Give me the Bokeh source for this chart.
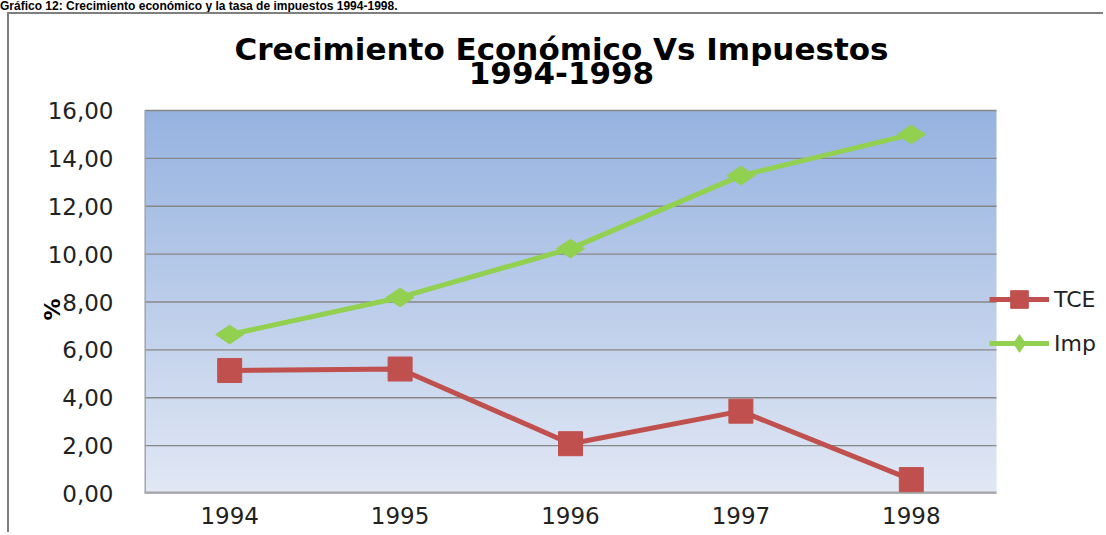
import math
import numpy as np
from bokeh.plotting import figure
from bokeh.layouts import column
from bokeh.models import (Legend, LegendItem, FixedTicker, Range1d, Div, Label,
                          LinearAxis)
from bokeh.embed import file_html
from bokeh.resources import INLINE

# ---- data ----
years = ["1994", "1995", "1996", "1997", "1998"]
tce = [5.14, 5.20, 2.08, 3.44, 0.58]
imp = [6.64, 8.19, 10.23, 13.28, 15.00]
y_ticks = [0, 2, 4, 6, 8, 10, 12, 14, 16]
y_tick_labels = ["0,00", "2,00", "4,00", "6,00", "8,00", "10,00", "12,00", "14,00", "16,00"]
series_names = ["TCE", "Imp"]
title_line1 = "Crecimiento Económico Vs Impuestos"
title_line2 = "1994-1998"
caption = "Gráfico 12: Crecimiento económico y la tasa de impuestos 1994-1998."
y_label = "%"

x_idx = list(range(len(years)))
y_max = y_ticks[-1]

RED = "#C0504D"
GREEN = "#92D050"
FONT = "DejaVu Sans"

# ---- layout geometry (pixels) ----
W, Hgt = 1096, 520
LEFT, BOTTOM = 135, 41
AREA_W, AREA_H = 852, 383          # size of the shaded plot area
px_x = AREA_W / len(years)
px_y = AREA_H / y_max
frame_w = W - LEFT
frame_h = Hgt - BOTTOM
x_end = -0.5 + frame_w / px_x
y_end = frame_h / px_y

p = figure(width=W, height=Hgt, output_backend="svg", toolbar_location=None,
           x_range=Range1d(-0.5, x_end), y_range=Range1d(0, y_end),
           min_border_left=LEFT, min_border_right=0, min_border_top=0,
           min_border_bottom=BOTTOM)
p.outline_line_color = None
p.background_fill_color = "white"
p.border_fill_color = "white"
p.margin = (0, 0, 0, 7)
p.styles = {"border-left": "2px solid #7F7F7F", "border-top": "2px solid #7F7F7F"}

# gradient background of plot area
NR = 384
t = np.linspace(0.0, 1.0, NR)[:, None]
bottom_c = np.array([226, 232, 245])
top_c = np.array([150, 179, 224])
cols = bottom_c + (top_c - bottom_c) * t
img = np.empty((NR, 1), dtype=np.uint32)
view = img.view(dtype=np.uint8).reshape((NR, 1, 4))
view[:, :, 0] = cols[:, 0:1].astype(np.uint8)
view[:, :, 1] = cols[:, 1:2].astype(np.uint8)
view[:, :, 2] = cols[:, 2:3].astype(np.uint8)
view[:, :, 3] = 255
p.image_rgba(image=[img], x=-0.5, y=0, dw=len(years), dh=y_max, level="image")

# grid lines and plot-area edges
x_lo, x_hi = -0.5, len(years) - 0.5
p.segment(x0=[x_lo] * len(y_ticks), y0=y_ticks, x1=[x_hi] * len(y_ticks), y1=y_ticks,
          line_color="#878787", line_width=1.3)
p.segment(x0=[x_lo], y0=[0], x1=[x_lo], y1=[y_max], line_color="#A6A6A6", line_width=3)
p.segment(x0=[x_lo], y0=[0], x1=[x_hi], y1=[0], line_color="#A6A6A6", line_width=4)

# axes
p.xgrid.grid_line_color = None
p.ygrid.grid_line_color = None
p.yaxis.ticker = FixedTicker(ticks=y_ticks)
p.yaxis.major_label_overrides = dict(zip(y_ticks, y_tick_labels))
p.xaxis.ticker = FixedTicker(ticks=x_idx)
p.xaxis.major_label_overrides = dict(zip(x_idx, years))
for ax in (p.xaxis, p.yaxis):
    ax.major_tick_line_color = None
    ax.minor_tick_line_color = None
    ax.major_tick_out = 0
    ax.major_tick_in = 0
    ax.major_label_text_font = FONT
    ax.major_label_text_font_size = "23px"
    ax.major_label_text_color = "#222222"
    ax.axis_line_color = None
p.yaxis.major_label_standoff = 31
p.xaxis.major_label_standoff = 13

# "%" label as a second left axis with one labelled tick
pct_pos = 8.15
pct_axis = LinearAxis(ticker=FixedTicker(ticks=[pct_pos]),
                      major_label_overrides={pct_pos: y_label},
                      axis_line_color=None, major_tick_line_color=None,
                      minor_tick_line_color=None, major_tick_out=0, major_tick_in=0,
                      major_label_orientation=math.pi / 2, major_label_standoff=-8,
                      major_label_text_font=FONT, major_label_text_font_style="bold",
                      major_label_text_font_size="22px", major_label_text_color="#000000")
p.add_layout(pct_axis, "left")

# series
l1 = p.line(x_idx, tce, line_color=RED, line_width=5)
s1 = p.scatter(x_idx, tce, marker="square", size=24, fill_color=RED, line_color=RED)
l2 = p.line(x_idx, imp, line_color=GREEN, line_width=5)
s2 = p.scatter(x_idx, imp, marker="diamond", angle=np.pi / 2, size=28,
               fill_color=GREEN, line_color=GREEN)

legend = Legend(items=[LegendItem(label=series_names[0], renderers=[l1, s1]),
                       LegendItem(label=series_names[1], renderers=[l2, s2])],
                location=(845, 128), glyph_width=60, glyph_height=44, spacing=0,
                padding=0, margin=0, label_standoff=5, label_text_font=FONT,
                label_text_font_size="22px", label_text_color="#222222",
                border_line_color=None, background_fill_alpha=0)
p.add_layout(legend)

# title (two centred lines)
title_x = 1.947
p.add_layout(Label(x=title_x, y=18.58, text=title_line1, text_align="center",
                   text_baseline="alphabetic", text_font=FONT, text_font_style="bold",
                   text_font_size="31px", text_color="#000000"))
p.add_layout(Label(x=title_x, y=17.58, text=title_line2, text_align="center",
                   text_baseline="alphabetic", text_font=FONT, text_font_style="bold",
                   text_font_size="31px", text_color="#000000"))

div = Div(text=caption, width=1100, height=12, margin=0,
          styles={"font-family": "Liberation Sans", "font-weight": "bold",
                  "font-size": "12px", "line-height": "12px", "white-space": "nowrap",
                  "color": "#000000", "overflow": "hidden"})

layout = column(div, p, spacing=0)
open("out.html", "w").write(file_html(layout, INLINE))
